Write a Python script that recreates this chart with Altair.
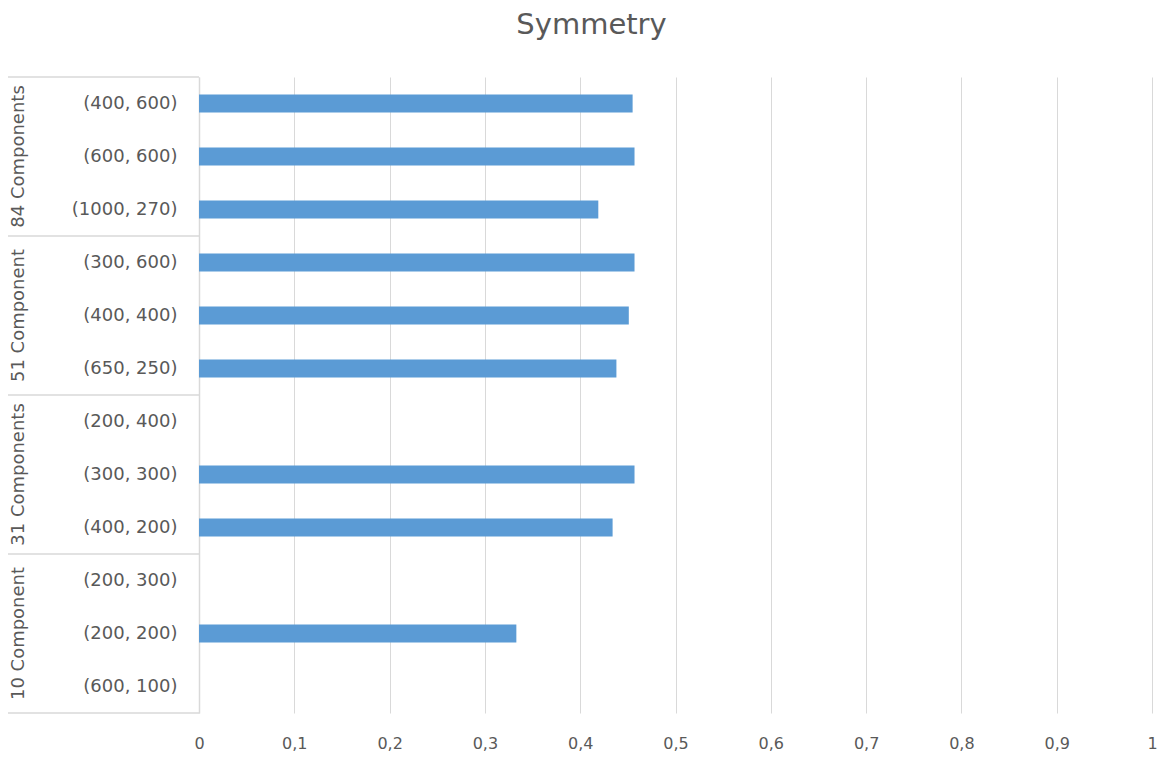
import altair as alt
import pandas as pd

# ---- data ----
groups = ["84 Components", "51 Component", "31 Components", "10 Component"]
labels = [
    "(400, 600)", "(600, 600)", "(1000, 270)",
    "(300, 600)", "(400, 400)", "(650, 250)",
    "(200, 400)", "(300, 300)", "(400, 200)",
    "(200, 300)", "(200, 200)", "(600, 100)",
]
label_group = [
    "84 Components", "84 Components", "84 Components",
    "51 Component", "51 Component", "51 Component",
    "31 Components", "31 Components", "31 Components",
    "10 Component", "10 Component", "10 Component",
]
values = [0.455, 0.457, 0.419, 0.457, 0.451, 0.438,
          None, 0.457, 0.434, None, 0.333, None]
x_ticks = [0, 0.1, 0.2, 0.3, 0.4, 0.5, 0.6, 0.7, 0.8, 0.9, 1]

df = pd.DataFrame({"label": labels, "group": label_group, "value": values})

# group helpers derived from the lists above
first_of_group = [labels[label_group.index(g)] for g in groups]
mid_of_group = [labels[label_group.index(g) + 1] for g in groups]
df_groups = pd.DataFrame({"group": groups, "first": first_of_group, "mid": mid_of_group})
df_last = pd.DataFrame({"last": [labels[-1]]})

GRID = "#D9D9D9"
TEXT = "#595959"
BAR = "#5B9BD5"

yscale = alt.Scale(domain=labels, paddingInner=0, paddingOuter=0)

bars = alt.Chart(df).mark_bar(color=BAR, size=18).encode(
    x=alt.X("value:Q",
            scale=alt.Scale(domain=[0, 1], nice=False),
            axis=alt.Axis(values=x_ticks, title=None, domain=False, ticks=False,
                          grid=True, gridColor=GRID, gridWidth=1, labelFlush=False,
                          labelExpr="replace(format(datum.value, '.1~f'), '.', ',')",
                          labelFontSize=16, labelColor=TEXT, labelPadding=22)),
    y=alt.Y("label:N", scale=yscale, sort=labels,
            axis=alt.Axis(title=None, ticks=False, domain=True, domainColor=GRID,
                          domainWidth=1.5, labelFontSize=18, labelColor=TEXT,
                          labelPadding=22, grid=False)),
)

seps = alt.Chart(df_groups).mark_rule(color=GRID, strokeWidth=1.5).encode(
    y=alt.Y("first:N", scale=yscale, bandPosition=0),
    x=alt.value(-191),
    x2=alt.value(0),
)

bottom = alt.Chart(df_last).mark_rule(color=GRID, strokeWidth=1.5).encode(
    y=alt.Y("last:N", scale=yscale, bandPosition=1),
    x=alt.value(-191),
    x2=alt.value(0),
)

group_text = alt.Chart(df_groups).mark_text(
    angle=270, align="center", baseline="middle", fontSize=18, color=TEXT
).encode(
    y=alt.Y("mid:N", scale=yscale),
    x=alt.value(-180),
    text="group:N",
)

chart = alt.layer(bars, seps, bottom, group_text).properties(
    width=953,
    height=636,
    autosize=alt.AutoSizeParams(type="none"),
    padding={"left": 191, "top": 69, "right": 5, "bottom": 45},
    title=alt.Title("Symmetry", fontSize=29, color=TEXT, fontWeight="normal",
                    anchor="middle", offset=36, dx=-84),
).configure(font="DejaVu Sans").configure_view(stroke="transparent")

chart.save("out.html", embed_options={"renderer": "svg", "actions": False})
